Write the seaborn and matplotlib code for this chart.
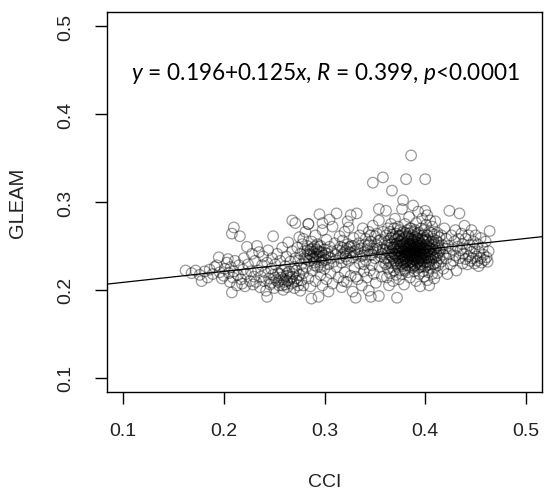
import matplotlib
matplotlib.use("Agg")
import matplotlib.pyplot as plt
import seaborn as sns
import pandas as pd

# ---------------- data ----------------
intercept = 0.196
slope = 0.125
equation = r"$\mathit{y}$ = 0.196+0.125$\mathit{x}$, $\mathit{R}$ = 0.399, $\mathit{p}$<0.0001"
x_ticks = [0.1, 0.2, 0.3, 0.4, 0.5]
y_ticks = [0.1, 0.2, 0.3, 0.4, 0.5]

left_sparse = [(0.162,0.222),(0.168,0.219),(0.172,0.222),(0.176,0.217),(0.178,0.210),(0.181,0.221),
    (0.184,0.214),(0.186,0.223),(0.189,0.218),(0.191,0.226),(0.193,0.228),(0.195,0.237),(0.196,0.220),
    (0.198,0.213),(0.200,0.216),(0.201,0.224),(0.203,0.231),(0.204,0.235),(0.205,0.219),(0.206,0.209),
    (0.207,0.226),(0.209,0.214),(0.210,0.221),(0.211,0.233),(0.213,0.205),(0.214,0.217),(0.215,0.228),
    (0.217,0.212),(0.218,0.207),(0.219,0.223),(0.220,0.236),(0.221,0.204),(0.222,0.218),(0.223,0.249),
    (0.224,0.229),(0.226,0.210),(0.227,0.221),(0.228,0.241),(0.229,0.206),(0.230,0.215)]

band_low = [(0.231,0.233),(0.232,0.209),(0.233,0.250),(0.234,0.222),(0.235,0.243),(0.236,0.203),
    (0.237,0.215),(0.238,0.228),(0.239,0.238),(0.240,0.210),(0.241,0.220),(0.242,0.199),(0.243,0.192),
    (0.243,0.231),(0.244,0.245),(0.245,0.213),(0.246,0.206),(0.247,0.224),(0.248,0.236),(0.249,0.261),
    (0.249,0.217),(0.250,0.202),(0.251,0.229),(0.252,0.211),(0.253,0.241),(0.254,0.219),(0.255,0.205),
    (0.256,0.233),(0.257,0.214),(0.258,0.248),(0.258,0.222),(0.259,0.200),(0.260,0.209),(0.261,0.227),
    (0.262,0.238),(0.262,0.216),(0.263,0.203),(0.264,0.254),(0.265,0.221),(0.265,0.211),(0.266,0.232),
    (0.267,0.207),(0.268,0.279),(0.268,0.244),(0.269,0.218),(0.270,0.226),(0.270,0.202),(0.271,0.276),
    (0.271,0.236),(0.272,0.213),(0.247,0.208),(0.251,0.214),(0.254,0.209),(0.256,0.218),(0.259,0.212),
    (0.261,0.206),(0.263,0.219),(0.266,0.214),(0.269,0.209),(0.272,0.222),(0.274,0.205),(0.275,0.217),
    (0.277,0.211),(0.278,0.224),(0.276,0.199)]

cluster_29 = [(0.273,0.248),(0.274,0.233),(0.275,0.260),(0.276,0.241),(0.277,0.229),(0.278,0.252),
    (0.279,0.219),(0.280,0.244),(0.280,0.236),(0.281,0.266),(0.282,0.226),(0.283,0.250),(0.283,0.240),
    (0.284,0.275),(0.284,0.213),(0.285,0.233),(0.286,0.246),(0.286,0.204),(0.287,0.190),(0.287,0.255),
    (0.288,0.238),(0.288,0.222),(0.289,0.243),(0.290,0.249),(0.290,0.231),(0.291,0.262),(0.291,0.210),
    (0.292,0.241),(0.292,0.235),(0.293,0.252),(0.293,0.226),(0.294,0.192),(0.294,0.244),(0.295,0.286),
    (0.295,0.238),(0.296,0.217),(0.296,0.250),(0.297,0.231),(0.297,0.243),(0.298,0.268),(0.298,0.205),
    (0.299,0.239),(0.300,0.246),(0.300,0.224),(0.301,0.234),(0.302,0.257),(0.302,0.212),(0.303,0.241),
    (0.304,0.198),(0.304,0.229),(0.305,0.249),(0.306,0.236),(0.306,0.219),(0.307,0.244),(0.308,0.272),
    (0.308,0.207),(0.309,0.232),(0.310,0.253),(0.288,0.247),(0.285,0.241),(0.291,0.237),(0.294,0.249),
    (0.297,0.237),(0.282,0.235),(0.279,0.258)]

cluster_33 = [(0.311,0.240),(0.312,0.287),(0.312,0.226),(0.313,0.245),(0.314,0.214),(0.315,0.261),
    (0.315,0.236),(0.316,0.249),(0.317,0.203),(0.317,0.231),(0.318,0.256),(0.319,0.242),(0.320,0.220),
    (0.320,0.266),(0.321,0.238),(0.322,0.247),(0.322,0.209),(0.323,0.252),(0.324,0.233),(0.324,0.271),
    (0.325,0.243),(0.326,0.285),(0.326,0.216),(0.327,0.250),(0.328,0.237),(0.328,0.198),(0.329,0.259),
    (0.330,0.244),(0.330,0.225),(0.331,0.191),(0.332,0.287),(0.332,0.240),(0.333,0.212),(0.334,0.253),
    (0.335,0.230),(0.335,0.262),(0.336,0.247),(0.337,0.205),(0.338,0.239),(0.338,0.270),(0.339,0.221),
    (0.340,0.251),(0.341,0.234),(0.341,0.258),(0.342,0.214),(0.343,0.245),(0.344,0.266),(0.344,0.199),
    (0.345,0.240),(0.346,0.192),(0.346,0.255),(0.347,0.228),(0.348,0.273),(0.348,0.247),(0.349,0.218),
    (0.350,0.261),(0.350,0.236),(0.351,0.208),(0.352,0.251),(0.353,0.243),(0.354,0.193),(0.354,0.279),
    (0.355,0.226),(0.356,0.257),(0.356,0.238),(0.357,0.215),(0.358,0.266),(0.358,0.246),(0.359,0.231),
    (0.360,0.253),(0.318,0.248),(0.321,0.244),(0.325,0.249),(0.343,0.250),(0.346,0.262),(0.349,0.243),
    (0.352,0.264),(0.355,0.248)]

mid_extra = [(0.286,0.240),(0.289,0.236),(0.292,0.246),(0.295,0.243),(0.298,0.233),(0.301,0.242),
    (0.304,0.237),(0.290,0.228),(0.283,0.245),(0.296,0.226),(0.318,0.240),(0.322,0.235),(0.326,0.242),
    (0.329,0.250),(0.333,0.246),(0.336,0.238),(0.340,0.243),(0.344,0.252),(0.347,0.240),(0.351,0.247),
    (0.354,0.256),(0.357,0.241),(0.360,0.236),(0.339,0.229),(0.345,0.222),(0.331,0.215),(0.319,0.210),
    (0.263,0.210),(0.268,0.215),(0.258,0.205),(0.273,0.210),(0.279,0.205)]

core_cci = [0.361]*4 + [0.362]*3 + [0.363]*3 + [0.364]*3 + [0.365]*4 + [0.366]*3 + [0.367]*4 + \
    [0.368]*3 + [0.369]*4 + [0.370]*4 + [0.371]*4 + [0.372]*4 + [0.373]*4 + [0.374]*4 + [0.375]*5 + \
    [0.376]*4 + [0.377]*5 + [0.378]*6 + [0.379]*5 + [0.380]*6 + [0.381]*5 + [0.382]*6 + [0.383]*5 + \
    [0.384]*6 + [0.385]*6 + [0.386]*6 + [0.387]*6 + [0.388]*6 + [0.389]*6 + [0.390]*6 + [0.391]*6 + \
    [0.392]*5 + [0.393]*6 + [0.394]*5 + [0.395]*6 + [0.396]*5 + [0.397]*5 + [0.398]*5 + [0.399]*5 + \
    [0.400]*6 + [0.401]*4 + [0.402]*5 + [0.403]*4 + [0.404]*5 + [0.405]*4 + [0.406]*4 + [0.407]*4 + \
    [0.408]*4 + [0.409]*4 + [0.410]*4 + [0.411]*3 + [0.412]*4 + [0.413]*3 + [0.414]*3
core_gleam = [0.245,0.262,0.229,0.290, 0.251,0.237,0.214, 0.270,0.243,0.224, 0.256,0.233,0.205,
    0.248,0.266,0.219,0.240, 0.259,0.231,0.275, 0.244,0.313,0.226,0.252, 0.236,0.263,0.210,
    0.249,0.241,0.270,0.222, 0.257,0.233,0.246,0.281, 0.239,0.252,0.217,0.264, 0.191,0.244,0.230,0.258,
    0.250,0.236,0.272,0.226, 0.241,0.261,0.247,0.212, 0.255,0.233,0.244,0.268,0.222,
    0.238,0.250,0.229,0.262, 0.292,0.246,0.240,0.256,0.218, 0.302,0.235,0.252,0.244,0.227,0.266,
    0.248,0.238,0.259,0.231,0.206, 0.243,0.253,0.236,0.275,0.224,0.247, 0.326,0.240,0.250,0.232,0.261,
    0.245,0.237,0.255,0.228,0.242,0.268, 0.251,0.234,0.246,0.220,0.259, 0.239,0.248,0.264,0.231,0.243,0.283,
    0.244,0.236,0.253,0.227,0.249,0.214, 0.353,0.241,0.258,0.233,0.247,0.270, 0.250,0.238,0.244,0.225,0.262,0.255,
    0.296,0.242,0.235,0.252,0.230,0.247, 0.246,0.239,0.257,0.221,0.266,0.243, 0.251,0.234,0.245,0.240,0.260,0.228,
    0.243,0.254,0.237,0.276,0.248,0.210, 0.239,0.249,0.231,0.258,0.244, 0.253,0.236,0.246,0.225,0.265,0.289,
    0.241,0.250,0.233,0.256,0.218, 0.204,0.247,0.238,0.262,0.229,0.244, 0.252,0.240,0.234,0.270,0.248,
    0.244,0.257,0.227,0.239,0.281, 0.249,0.236,0.262,0.221,0.245, 0.242,0.255,0.231,0.268,0.215,
    0.326,0.290,0.247,0.236,0.259,0.226, 0.251,0.240,0.274,0.232, 0.244,0.262,0.228,0.285,0.211,
    0.249,0.237,0.256,0.220, 0.205,0.243,0.266,0.232,0.252, 0.247,0.238,0.279,0.225, 0.255,0.234,0.244,0.265,
    0.240,0.250,0.218,0.272, 0.246,0.229,0.258,0.236, 0.252,0.241,0.263,0.213, 0.237,0.248,0.278,0.226,
    0.244,0.256,0.231, 0.250,0.239,0.265,0.219, 0.242,0.254,0.228, 0.247,0.236,0.260]

core_extra = [(0.368,0.248),(0.370,0.240),(0.372,0.253),(0.373,0.244),(0.374,0.236),(0.375,0.250),
    (0.376,0.243),(0.377,0.258),(0.378,0.231),(0.379,0.252),(0.380,0.239),(0.381,0.246),(0.382,0.233),
    (0.383,0.261),(0.384,0.252),(0.385,0.240),(0.386,0.228),(0.387,0.247),(0.388,0.256),(0.389,0.235),
    (0.390,0.249),(0.391,0.241),(0.392,0.263),(0.393,0.232),(0.394,0.245),(0.395,0.253),(0.396,0.241),
    (0.397,0.233),(0.398,0.256),(0.399,0.247),(0.400,0.240),(0.401,0.257),(0.402,0.236),(0.403,0.245),
    (0.404,0.229),(0.371,0.230),(0.374,0.262),(0.377,0.234),(0.380,0.265),(0.383,0.241),(0.386,0.252),
    (0.389,0.227),(0.392,0.250),(0.395,0.236),(0.398,0.242),(0.401,0.249),(0.367,0.238),(0.366,0.252),
    (0.369,0.260),(0.385,0.270),(0.390,0.268),(0.395,0.226),(0.380,0.222),(0.387,0.232),(0.393,0.258)]

right_group = [(0.415,0.245),(0.416,0.262),(0.416,0.232),(0.417,0.251),(0.418,0.224),(0.418,0.240),
    (0.419,0.270),(0.420,0.247),(0.421,0.236),(0.421,0.258),(0.422,0.218),(0.423,0.250),(0.424,0.290),
    (0.424,0.241),(0.425,0.229),(0.426,0.262),(0.427,0.246),(0.428,0.233),(0.429,0.255),(0.430,0.239),
    (0.430,0.268),(0.431,0.222),(0.432,0.249),(0.433,0.258),(0.434,0.287),(0.434,0.236),(0.435,0.245),
    (0.436,0.264),(0.437,0.230),(0.437,0.252),(0.438,0.241),(0.439,0.273),(0.440,0.235),(0.440,0.258),
    (0.441,0.247),(0.442,0.229),(0.443,0.262),(0.443,0.238),(0.444,0.251),(0.445,0.233),(0.446,0.268),
    (0.446,0.243),(0.447,0.236),(0.448,0.255),(0.449,0.230),(0.449,0.247),(0.450,0.262),(0.451,0.238),
    (0.452,0.233),(0.452,0.252),(0.453,0.227),(0.454,0.243),(0.455,0.259),(0.455,0.236),(0.456,0.231),
    (0.457,0.248),(0.458,0.240),(0.459,0.234),(0.460,0.255),(0.461,0.237),(0.462,0.232),(0.464,0.267),
    (0.463,0.244)]

outliers = [(0.348,0.322),(0.358,0.328),(0.354,0.292),(0.210,0.271),(0.208,0.264),(0.216,0.261),
    (0.208,0.197),(0.284,0.275),(0.305,0.280),(0.298,0.276),(0.323,0.278)]

# ---------------- build table ----------------
pairs = (left_sparse + band_low + cluster_29 + cluster_33 + mid_extra
         + list(zip(core_cci, core_gleam)) + core_extra + right_group + outliers)
df = pd.DataFrame(pairs, columns=["CCI", "GLEAM"])

# ---------------- plot ----------------
sns.set_style("white")
plt.rcParams["font.family"] = ["Liberation Sans", "DejaVu Sans"]
plt.rcParams["mathtext.fontset"] = "custom"
plt.rcParams["mathtext.rm"] = "Lato"
plt.rcParams["mathtext.it"] = "Lato:italic"

fig = plt.figure(figsize=(5.5, 5.02), dpi=100)
ax = fig.add_axes([107/550, 1-392.7/502, 435/550, 379.4/502])

sns.scatterplot(data=df, x="CCI", y="GLEAM", ax=ax, marker="o", s=58,
                facecolors="none", edgecolor=(0, 0, 0, 0.4), linewidth=0.9, legend=False)
ax.axline((0, intercept), slope=slope, color="black", lw=0.9)

ax.set_xlim(0.084, 0.516)
ax.set_ylim(0.084, 0.516)
ax.set_xticks(x_ticks)
ax.set_yticks(y_ticks)
ax.set_xticklabels([f"{v:.1f}" for v in x_ticks])
ax.set_yticklabels([f"{v:.1f}" for v in y_ticks])
ax.tick_params(axis="both", which="major", bottom=True, left=True, direction="out",
               length=8.5, width=1.0, color="black",
               labelsize=14, labelcolor="#222222")
ax.tick_params(axis="x", pad=13)
ax.tick_params(axis="y", pad=15)
for lab in ax.get_yticklabels():
    lab.set_rotation(90)
    lab.set_va("center")
for sp in ax.spines.values():
    sp.set_visible(True)
    sp.set_color("black")
    sp.set_linewidth(1.0)

ax.set_xlabel("CCI", fontsize=14, color="#222222")
ax.set_ylabel("GLEAM", fontsize=14.5, color="#222222")
ax.xaxis.set_label_coords(0.5, (392.7-483)/379.4)
ax.xaxis.label.set_va("center")
ax.yaxis.set_label_coords((18-107)/435, 0.5)
ax.yaxis.label.set_va("center")

ax.text(0.301, 0.447, equation, ha="center", va="center", fontsize=16.3,
        family="Lato", color="black")

fig.savefig("out.png", dpi=100)
